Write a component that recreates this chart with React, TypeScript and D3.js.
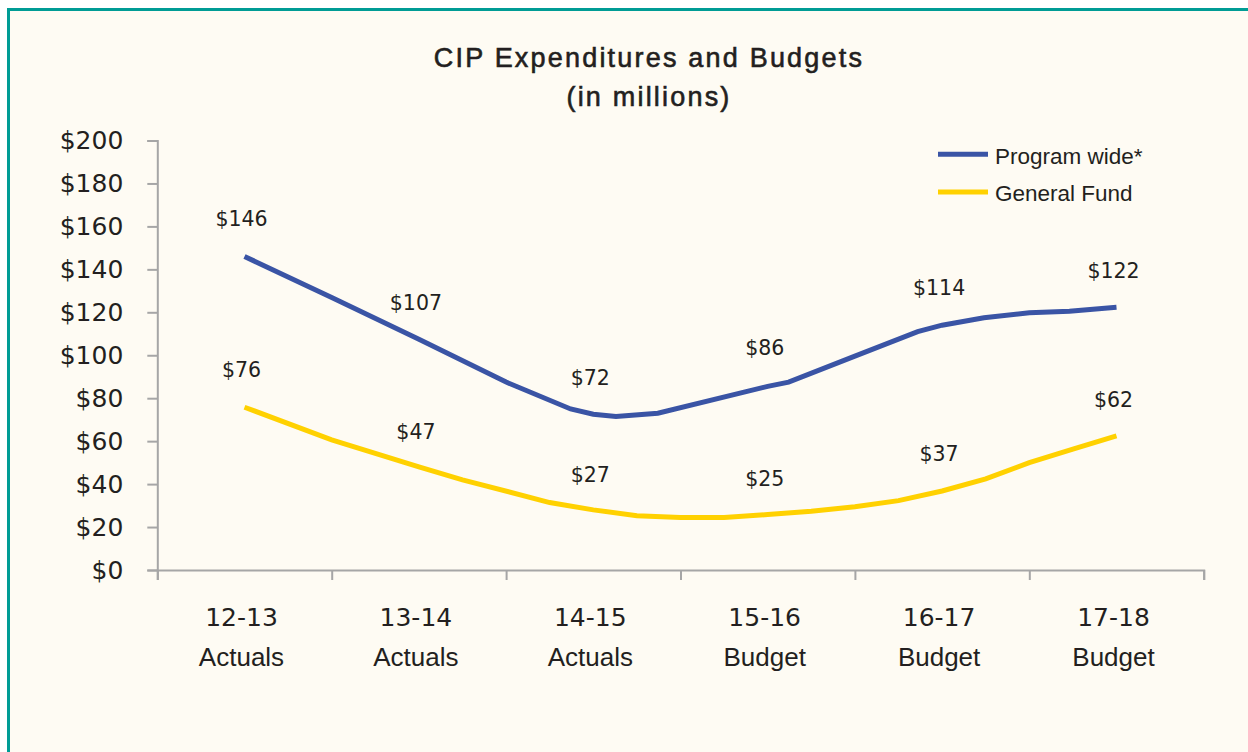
import React, { useRef, useEffect } from 'react';
import * as d3 from 'd3';

// categories / tick labels
const categories = ['12-13', '13-14', '14-15', '15-16', '16-17', '17-18'];
const periods = ['Actuals', 'Actuals', 'Actuals', 'Budget', 'Budget', 'Budget'];
const yTicks = [0, 20, 40, 60, 80, 100, 120, 140, 160, 180, 200];

// values printed at each year
const programLabels = [146, 107, 72, 86, 114, 122];
const generalLabels = [76, 47, 27, 25, 37, 62];

// traced line points (position in category units, value in $M)
const programT = [0, 0.5, 1, 1.5, 1.87, 2, 2.13, 2.37, 3, 3.12, 3.5, 3.86, 4, 4.24, 4.5, 4.73, 5];
const programV = [146, 126.9, 107.5, 87.5, 75, 72.5, 71.5, 73, 85.5, 87.5, 99.6, 111, 114, 117.5, 119.8, 120.5, 122.3];
const generalT = [0, 0.5, 1, 1.25, 1.75, 2, 2.25, 2.5, 2.75, 3, 3.25, 3.5, 3.75, 4, 4.25, 4.5, 4.75, 5];
const generalV = [75.8, 60.6, 48, 42, 31.4, 28, 25.3, 24.4, 24.4, 25.8, 27.4, 29.5, 32.3, 36.8, 42.4, 50, 56.3, 62.5];

const BLUE = '#3a54a5';
const YELLOW = '#ffd100';
const AXIS = '#a6a6a6';
const TEXT = '#231f20';
const WORD_FONT = '"Liberation Sans", Arial, sans-serif';
const NUM_FONT = '"DejaVu Sans", sans-serif';

export default function App() {
  const xAxisRef = useRef<SVGGElement>(null);
  const yAxisRef = useRef<SVGGElement>(null);

  // scales
  const x = d3.scaleLinear().domain([-0.5, 5.5]).range([157.3, 1203.7]);
  const y = d3.scaleLinear().domain([0, 200]).range([570, 140.5]);

  const programPts = programT.map((t, i) => [t, programV[i]] as [number, number]);
  const generalPts = generalT.map((t, i) => [t, generalV[i]] as [number, number]);

  const lineGen = d3
    .line<[number, number]>()
    .x((d) => x(d[0]))
    .y((d) => y(d[1]))
    .curve(d3.curveLinear);

  // axes
  useEffect(() => {
    const yAxis = d3
      .axisLeft(y)
      .tickValues(yTicks)
      .tickSize(10)
      .tickPadding(24)
      .tickFormat((d) => '$' + d);
    const gy = d3.select(yAxisRef.current!).call(yAxis as any);
    gy.select('.domain').attr('stroke', AXIS).attr('stroke-width', 2);
    gy.selectAll('.tick line').attr('stroke', AXIS).attr('stroke-width', 2);
    gy.selectAll('.tick text')
      .attr('font-family', NUM_FONT)
      .attr('font-size', 25)
      .attr('fill', TEXT);

    const xAxis = d3
      .axisBottom(x)
      .tickValues(d3.range(-0.5, 6, 1))
      .tickSize(10)
      .tickFormat(() => '');
    const gx = d3.select(xAxisRef.current!).call(xAxis as any);
    gx.select('.domain').attr('stroke', AXIS).attr('stroke-width', 2);
    gx.selectAll('.tick line').attr('stroke', AXIS).attr('stroke-width', 2);
  }, []);

  return (
    <svg
      width={1248}
      height={752}
      style={{ position: 'absolute', left: 0, top: 0, display: 'block', background: '#fff' }}
    >
      <rect x={8.5} y={9.5} width={1300} height={800} fill="#fefbf3" stroke="#009c95" strokeWidth={3} />

      {/* title */}
      <g fontFamily={WORD_FONT} fontSize={27} fill={TEXT} stroke={TEXT} strokeWidth={0.6} textAnchor="middle" letterSpacing={2.2}>
        <text x={649} y={67}>CIP Expenditures and Budgets</text>
        <text x={649} y={106}>(in millions)</text>
      </g>

      <g ref={yAxisRef} transform="translate(157.3,0)" />
      <g ref={xAxisRef} transform="translate(0,570)" />

      {/* category labels */}
      <g textAnchor="middle" fill={TEXT}>
        {categories.map((c, i) => (
          <g key={c}>
            <text x={x(i) - 3} y={626} fontFamily={NUM_FONT} fontSize={25}>{c}</text>
            <text x={x(i) - 3} y={666} fontFamily={WORD_FONT} fontSize={26}>{periods[i]}</text>
          </g>
        ))}
      </g>

      {/* lines */}
      <path d={lineGen(generalPts) || ''} fill="none" stroke={YELLOW} strokeWidth={5} />
      <path d={lineGen(programPts) || ''} fill="none" stroke={BLUE} strokeWidth={5} />

      {/* data labels */}
      <g textAnchor="middle" fontFamily={NUM_FONT} fontSize={20.5} fill={TEXT}>
        {programLabels.map((v, i) => (
          <text key={'p' + i} x={x(i) - 3} y={y(v) - 30}>${v}</text>
        ))}
        {generalLabels.map((v, i) => (
          <text key={'g' + i} x={x(i) - 3} y={y(v) - 30}>${v}</text>
        ))}
      </g>

      {/* legend */}
      <g fontFamily={WORD_FONT} fontSize={22.5} fill={TEXT}>
        <line x1={938} x2={988} y1={154.3} y2={154.3} stroke={BLUE} strokeWidth={5} />
        <text x={995} y={163.5}>Program wide*</text>
        <line x1={938} x2={988} y1={192} y2={192} stroke={YELLOW} strokeWidth={5} />
        <text x={995} y={201}>General Fund</text>
      </g>
    </svg>
  );
}
